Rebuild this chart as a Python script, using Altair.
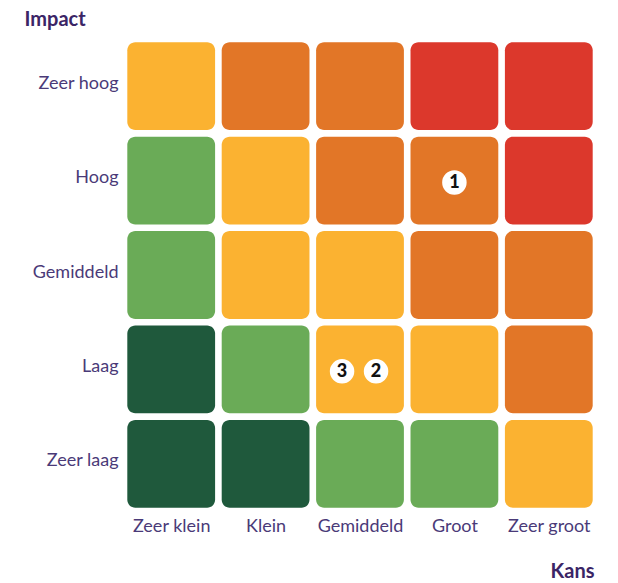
import altair as alt
import pandas as pd

kans_labels = ["Zeer klein", "Klein", "Gemiddeld", "Groot", "Zeer groot"]
impact_labels = ["Zeer laag", "Laag", "Gemiddeld", "Hoog", "Zeer hoog"]

# rows from Zeer hoog (top) to Zeer laag (bottom); columns Zeer klein..Zeer groot
grid_levels = [
    ["geel", "oranje", "oranje", "rood", "rood"],
    ["groen", "geel", "oranje", "oranje", "rood"],
    ["groen", "geel", "geel", "oranje", "oranje"],
    ["donkergroen", "groen", "geel", "geel", "oranje"],
    ["donkergroen", "donkergroen", "groen", "groen", "geel"],
]
level_names = ["donkergroen", "groen", "geel", "oranje", "rood"]
level_colors = ["#1f593c", "#6aab57", "#fbb231", "#e27627", "#dc382c"]

risk_ids = ["1", "3", "2"]
risk_kans = [4.0, 2.81, 3.17]
risk_impact = [3.98, 1.98, 1.98]

rows = []
for r, row in enumerate(grid_levels):
    for c, lvl in enumerate(row):
        rows.append({"kans": c + 1, "impact": 5 - r, "level": lvl})
cells = pd.DataFrame(rows)
risks = pd.DataFrame({"id": risk_ids, "kans": risk_kans, "impact": risk_impact})

purple_dark = "#3b2566"
purple = "#4a3a78"
font = "Lato"

xscale = alt.Scale(domain=[0.5, 5.5], nice=False, zero=False)
yscale = alt.Scale(domain=[0.5, 5.5], nice=False, zero=False)

x_axis = alt.Axis(
    values=[1, 2, 3, 4, 5],
    labelExpr="['','Zeer klein','Klein','Gemiddeld','Groot','Zeer groot'][datum.value]",
    domain=False, ticks=False, grid=False, labelPadding=6,
    labelFont=font, labelFontSize=18, labelColor=purple,
    title="Kans", titleFont=font, titleFontSize=20, titleFontWeight="bold",
    titleColor=purple_dark, titleAnchor="end", titleAlign="right",
    titleX=470, titleY=60, titleBaseline="middle",
)
y_axis = alt.Axis(
    values=[1, 2, 3, 4, 5],
    labelExpr="['','Zeer laag','Laag','Gemiddeld','Hoog','Zeer hoog'][datum.value]",
    domain=False, ticks=False, grid=False, labelPadding=6, labelOffset=-3,
    labelFont=font, labelFontSize=18, labelColor=purple,
    title="Impact", titleFont=font, titleFontSize=20, titleFontWeight="bold",
    titleColor=purple_dark, titleAngle=0, titleAlign="left",
    titleX=-100, titleY=-20, titleBaseline="middle",
)

base = alt.Chart(cells).transform_calculate(
    x1="datum.kans - 0.465", x2="datum.kans + 0.465",
    y1="datum.impact - 0.465", y2="datum.impact + 0.465",
)
rects = base.mark_rect(cornerRadius=8).encode(
    x=alt.X("x1:Q", scale=xscale, axis=x_axis),
    x2="x2:Q",
    y=alt.Y("y1:Q", scale=yscale, axis=y_axis),
    y2="y2:Q",
    color=alt.Color("level:N", scale=alt.Scale(domain=level_names, range=level_colors), legend=None),
)

circles = alt.Chart(risks).mark_circle(size=600, color="white", opacity=1).encode(
    x=alt.X("kans:Q", scale=xscale),
    y=alt.Y("impact:Q", scale=yscale),
)
labels = alt.Chart(risks).mark_text(
    font=font, fontSize=18, fontWeight=900, color="#111111", baseline="middle", dy=1
).encode(
    x=alt.X("kans:Q", scale=xscale),
    y=alt.Y("impact:Q", scale=yscale),
    text="id:N",
)

chart = alt.layer(rects, circles, labels).properties(
    width=472, height=472,
    autosize=alt.AutoSizeParams(type="none"),
    padding={"left": 116, "top": 31, "right": 14, "bottom": 70},
    view=alt.ViewBackground(stroke="transparent", strokeWidth=0),
).configure_view(strokeWidth=0, stroke="transparent").configure(background="white")

chart.save("out.html", embed_options={"renderer": "svg", "actions": False})
